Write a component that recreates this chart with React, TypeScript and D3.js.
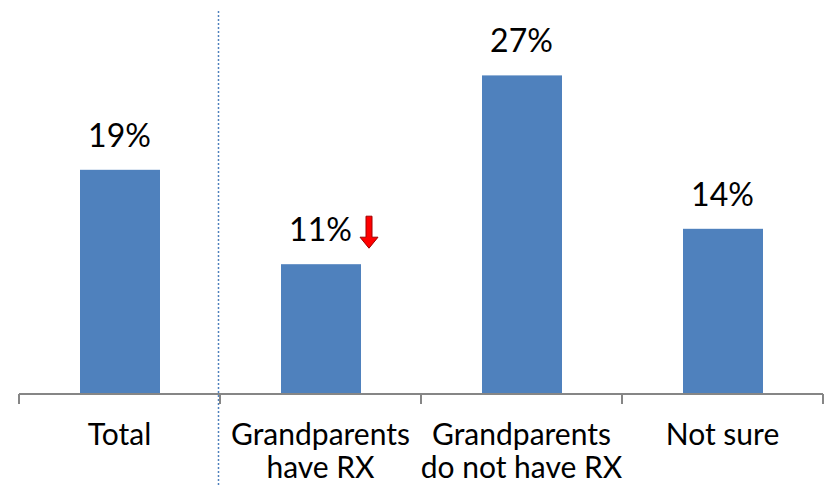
import React from "react";
import * as d3 from "d3";

const categories = ["Total", "Grandparents have RX", "Grandparents do not have RX", "Not sure"];
const categoryLines = [["Total"], ["Grandparents", "have RX"], ["Grandparents", "do not have RX"], ["Not sure"]];
const values = [19, 11, 27, 14];
const valueLabels = ["19%", "11%", "27%", "14%"];
const downArrowIndex = [1];

const W = 824;
const H = 487;
const FONT = "Lato, 'Open Sans', sans-serif";

export default function App() {
  const x = d3.scaleBand<string>().domain(categories).range([19, 823]).paddingInner(0).paddingOuter(0);
  const y = d3.scaleLinear().domain([0, 30]).range([394, 40]);
  const barW = 80;
  const base = y(0);

  return (
    <svg width={W} height={H} style={{ position: "absolute", left: 0, top: 0, background: "#fff" }}>
      <line x1={218.5} x2={218.5} y1={11} y2={487} stroke="#4F81BD" strokeWidth={1.5} strokeDasharray="2 2" />
      {categories.map((c, i) => {
        const cx = (x(c) as number) + x.bandwidth() / 2;
        const top = y(values[i]);
        return (
          <g key={c}>
            <rect x={cx - barW / 2 + 0.5} y={top} width={barW} height={base - top} fill="#4F81BD" />
            <text x={cx} y={top - 23} textAnchor="middle" fontFamily={FONT} fontSize={32} fill="#000">
              {valueLabels[i]}
            </text>
            {downArrowIndex.includes(i) && (
              <path
                d={`M${cx + 45.5},${top - 48} h6 v21 h6 l-9,11 l-9,-11 h6 z`}
                fill="#FF0000"
                stroke="#A00000"
                strokeWidth={1}
              />
            )}
            {categoryLines[i].map((ln, j) => (
              <text key={j} x={cx} y={445 + j * 33} textAnchor="middle" fontFamily={FONT} fontSize={30} fill="#000">
                {ln}
              </text>
            ))}
          </g>
        );
      })}
      <line x1={19} x2={823} y1={base} y2={base} stroke="#868686" strokeWidth={2} />
      {d3.range(categories.length + 1).map((k) => {
        const tx = k < categories.length ? (x(categories[k]) as number) : 823;
        return <line key={k} x1={tx} x2={tx} y1={base} y2={base + 10} stroke="#868686" strokeWidth={2} />;
      })}
    </svg>
  );
}
